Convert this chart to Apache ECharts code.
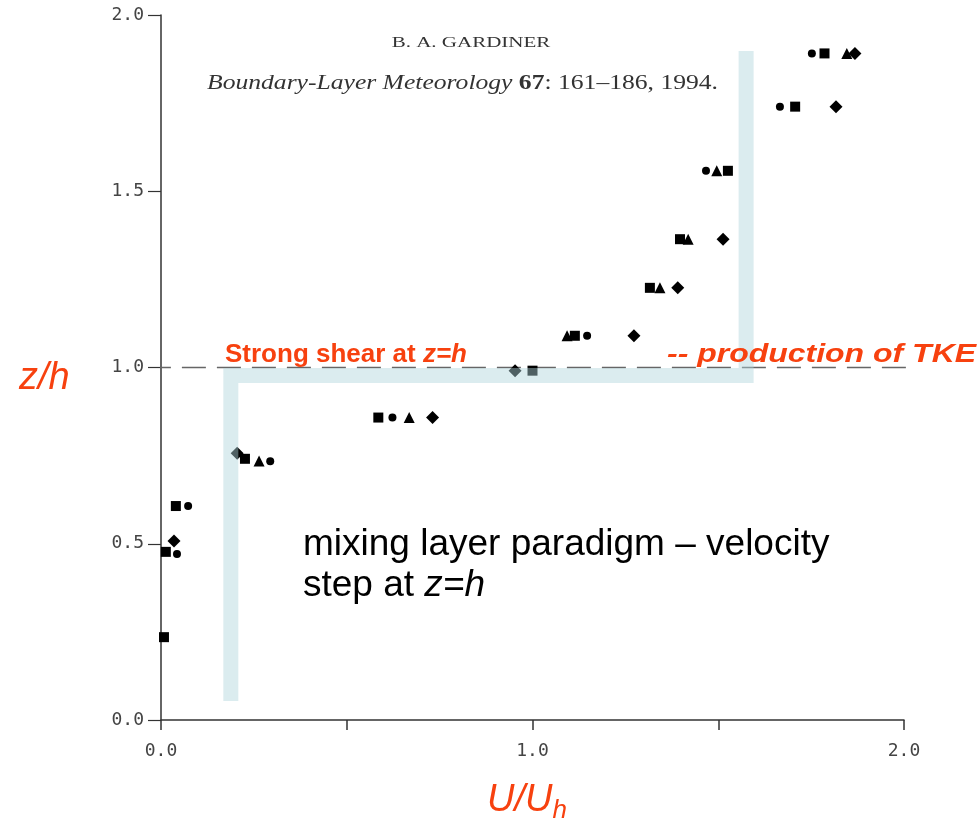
<!DOCTYPE html>
<html>
<head>
<meta charset="utf-8">
<script src="https://cdn.jsdelivr.net/npm/echarts@6/dist/echarts.min.js"></script>
<style>html,body{margin:0;padding:0;background:#fff}#c{width:980px;height:824px}</style>
</head>
<body>
<div id="c"></div>
<script>
// ---- data ----
const xTicks = [0.0, 0.5, 1.0, 1.5, 2.0];
const yTicks = [0.0, 0.5, 1.0, 1.5, 2.0];
const squares = [[0.008,0.235],[0.013,0.477],[0.040,0.607],[0.226,0.741],[0.585,0.858],[1.000,0.991],[1.114,1.090],[1.316,1.226],[1.397,1.364],[1.526,1.558],[1.707,1.740],[1.786,1.891]];
const circles = [[0.043,0.471],[0.073,0.607],[0.294,0.734],[0.623,0.858],[1.147,1.090],[1.467,1.558],[1.666,1.740],[1.752,1.891]];
const triangles = [[0.264,0.735],[0.668,0.858],[1.093,1.090],[1.343,1.226],[1.419,1.364],[1.496,1.558],[1.846,1.891]];
const diamonds = [[0.035,0.508],[0.205,0.757],[0.731,0.858],[0.953,0.991],[1.273,1.090],[1.391,1.226],[1.513,1.364],[1.817,1.740],[1.868,1.891]];
const canopyLine = [[-0.038,1.0],[2.048,1.0]];
const stepProfile = [[0.188,0.054],[0.188,0.977],[1.575,0.977],[1.575,1.898]];

const RED = '#f7410f';
const chart = echarts.init(document.getElementById('c'));
const mk = (data, symbol, size) => ({
  type: 'scatter', data, symbol, symbolSize: size,
  itemStyle: { color: '#000', opacity: 1 }, z: 3, silent: true
});
chart.setOption({
  animation: false,
  grid: { left: 161, right: 76, top: 15, bottom: 104 },
  xAxis: {
    type: 'value', min: 0, max: 2, interval: 0.5,
    axisLine: { lineStyle: { color: '#333', width: 1.5 } },
    axisTick: { show: true, length: 10, inside: false, lineStyle: { color: '#333', width: 1.5 } },
    splitLine: { show: false },
    axisLabel: {
      margin: 22, color: '#444', fontFamily: 'DejaVu Sans Mono', fontSize: 18,
      formatter: v => ([0, 1, 2].includes(v) ? v.toFixed(1) : '')
    }
  },
  yAxis: {
    type: 'value', min: 0, max: 2, interval: 0.5,
    axisLine: { show: true, lineStyle: { color: '#333', width: 1.5 } },
    axisTick: { show: true, length: 13, lineStyle: { color: '#333', width: 1.2 } },
    splitLine: { show: false },
    axisLabel: {
      margin: 17, color: '#444', fontFamily: 'DejaVu Sans Mono', fontSize: 18,
      formatter: v => v.toFixed(1)
    }
  },
  series: [
    {
      type: 'line', data: canopyLine, symbol: 'none', clip: false, silent: true, z: 2,
      lineStyle: { color: '#666', width: 1.5, type: [24, 11] }
    },
    mk(squares, 'rect', 10),
    mk(circles, 'circle', 8),
    mk(triangles, 'triangle', 11),
    mk(diamonds, 'diamond', 13),
    {
      type: 'line', data: stepProfile, symbol: 'none', clip: false, silent: true, z: 5,
      lineStyle: { color: 'rgba(175,212,220,0.45)', width: 15, join: 'miter', cap: 'butt' }
    }
  ],
  graphic: [
    { type: 'text', x: 471, y: 43, scaleX: 1.5, style: { text: 'B. A. GARDINER', x: 0, y: 0, align: 'center', verticalAlign: 'middle', font: '14px "Liberation Serif"', fill: '#333' } },
    { type: 'text', x: 207, y: 84, scaleX: 1.28, style: {
        x: 0, y: 0, verticalAlign: 'middle', fill: '#333',
        text: '{i|Boundary-Layer Meteorology }{b|67}{r|: 161–186, 1994.}',
        rich: {
          i: { font: 'italic 20px "Liberation Serif"', fill: '#333' },
          b: { font: 'bold 20px "Liberation Serif"', fill: '#333' },
          r: { font: '20px "Liberation Serif"', fill: '#333' }
        }
      } },
    { type: 'text', z: 10, x: 225, y: 355, style: {
        x: 0, y: 0, verticalAlign: 'middle',
        text: '{a|Strong shear at }{b|z=h}',
        rich: {
          a: { font: 'bold 26px "Liberation Sans"', fill: RED },
          b: { font: 'bold italic 26px "Liberation Sans"', fill: RED }
        }
      } },
    { type: 'text', z: 10, x: 667, y: 355, scaleX: 1.23, style: {
        x: 0, y: 0, verticalAlign: 'middle',
        text: '-- production of TKE', font: 'bold italic 26px "Liberation Sans"', fill: RED
      } },
    { type: 'text', z: 10, style: {
        x: 19, y: 378, verticalAlign: 'middle',
        text: 'z/h', font: 'italic 38px "Liberation Sans"', fill: RED
      } },
    { type: 'text', z: 10, style: {
        x: 487, y: 800, verticalAlign: 'middle',
        text: '{a|U/U}{s|h}',
        rich: {
          a: { font: 'italic 38px "Liberation Sans"', fill: RED },
          s: { font: 'italic 26px "Liberation Sans"', fill: RED, padding: [22, 0, 0, 0] }
        }
      } },
    { type: 'text', z: 10, style: {
        x: 303, y: 545, verticalAlign: 'middle',
        text: 'mixing layer paradigm – velocity', font: '37px "Liberation Sans"', fill: '#000'
      } },
    { type: 'text', z: 10, style: {
        x: 303, y: 586, verticalAlign: 'middle',
        text: '{a|step at }{b|z=h}',
        rich: {
          a: { font: '37px "Liberation Sans"', fill: '#000' },
          b: { font: 'italic 37px "Liberation Sans"', fill: '#000' }
        }
      } }
  ]
});
</script>
</body>
</html>
